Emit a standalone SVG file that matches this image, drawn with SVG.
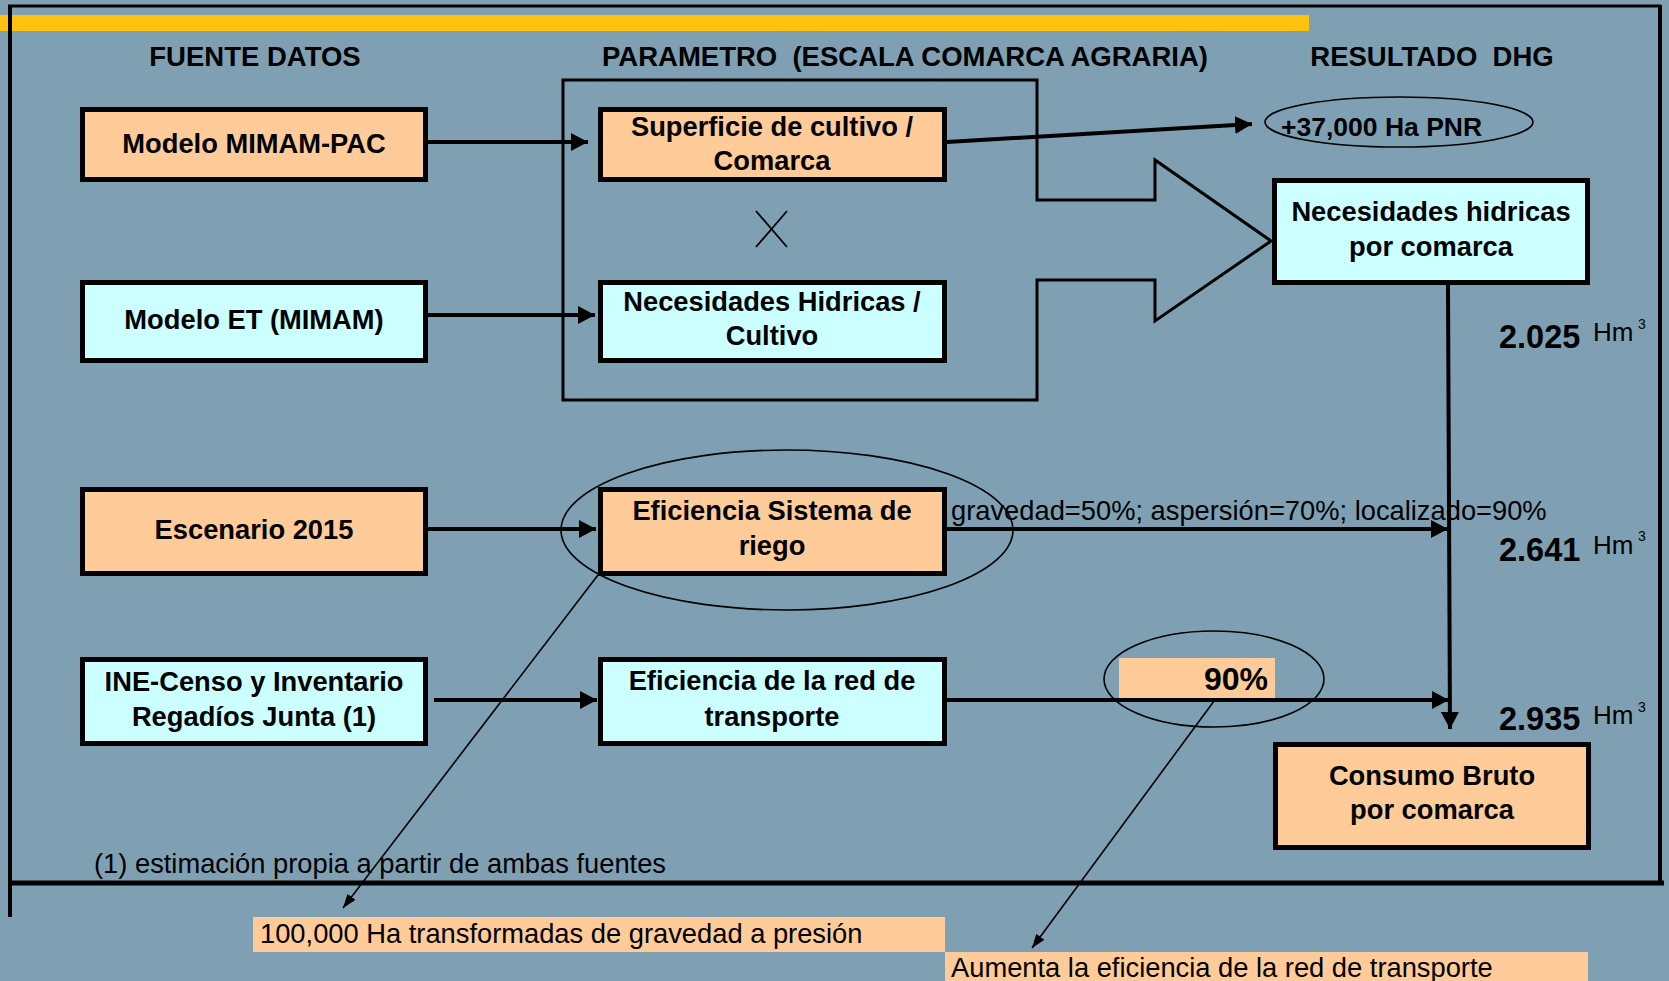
<svg xmlns="http://www.w3.org/2000/svg" width="1669" height="981" viewBox="0 0 1669 981">
<style>
text{font-family:"Liberation Sans",Arial,sans-serif;fill:#000}
.b{font-weight:bold;font-size:27.3px;text-anchor:middle}
.h{font-weight:bold;font-size:27.5px;text-anchor:middle}
.r{font-size:27.3px}
.pe{fill:#FFCC99;stroke:#000;stroke-width:5}
.cy{fill:#CCFFFF;stroke:#000;stroke-width:5}
.ln{stroke:#000;stroke-width:4;fill:none}
.th{stroke:#000;stroke-width:1.6;fill:none}
.num{font-weight:bold;font-size:32.5px}
.hm{font-size:26px}
.sup{font-size:14px}
</style>
<defs>
<marker id="ah" markerUnits="userSpaceOnUse" markerWidth="18" markerHeight="18" refX="17" refY="9" orient="auto"><path d="M0,0 L17,9 L0,18 Z" fill="#000"/></marker>
<marker id="at" markerUnits="userSpaceOnUse" markerWidth="15" markerHeight="10" refX="14" refY="5" orient="auto"><path d="M0,0 L14,5 L0,10 Z" fill="#000"/></marker>
</defs>
<rect x="0" y="0" width="1669" height="981" fill="#7FA0B2"/>
<rect x="0" y="15" width="1309" height="16" fill="#FFC20E"/>
<g id="frame" stroke="#000" fill="none">
<line x1="8" y1="6" x2="1661" y2="6" stroke-width="3"/>
<line x1="10" y1="5" x2="10" y2="917" stroke-width="4"/>
<line x1="1660" y1="5" x2="1660" y2="885" stroke-width="4"/>
<line x1="8" y1="883" x2="1664" y2="883" stroke-width="5"/>
</g>
<g id="headers">
<text class="h" x="255" y="66">FUENTE DATOS</text>
<text class="h" x="905" y="66" xml:space="preserve">PARAMETRO  (ESCALA COMARCA AGRARIA)</text>
<text class="h" x="1432" y="66" xml:space="preserve">RESULTADO  DHG</text>
</g>
<g id="param-frame">
<path d="M563,80 H1037 V200 H1155 V160 L1271,241 L1155,321 V280 H1037 V400 H563 Z" fill="none" stroke="#000" stroke-width="3"/>
<path d="M756,211 L787,247 M787,211 L756,247" stroke="#000" stroke-width="1.8"/>
</g>
<g id="connectors">
<line class="ln" x1="428" y1="142" x2="588" y2="142" marker-end="url(#ah)"/>
<line class="ln" x1="428" y1="315" x2="595" y2="315" marker-end="url(#ah)"/>
<line class="ln" x1="428" y1="529" x2="596" y2="529" marker-end="url(#ah)"/>
<line class="ln" x1="434" y1="700" x2="597" y2="700" marker-end="url(#ah)"/>
<line class="ln" x1="947" y1="142" x2="1252" y2="124" stroke-width="2.6" marker-end="url(#ah)"/>
<line class="ln" x1="1448" y1="285" x2="1450" y2="729" marker-end="url(#ah)"/>
<line class="ln" x1="947" y1="529" x2="1448" y2="529" marker-end="url(#ah)"/>
<line class="ln" x1="947" y1="700" x2="1449" y2="700" marker-end="url(#ah)"/>
<line class="th" x1="598" y1="575" x2="343" y2="908" marker-end="url(#at)"/>
<line class="th" x1="1217" y1="697" x2="1032" y2="948" marker-end="url(#at)"/>
</g>
<g id="n-mimam-pac">
<rect class="pe" x="82.5" y="109.5" width="343" height="70"/>
<text class="b" x="254" y="153">Modelo MIMAM-PAC</text>
</g>
<g id="n-modelo-et">
<rect class="cy" x="82.5" y="282.5" width="343" height="78"/>
<text class="b" x="254" y="329">Modelo ET (MIMAM)</text>
</g>
<g id="n-superficie">
<rect class="pe" x="600.5" y="109.5" width="344" height="70"/>
<text class="b" x="772" y="136">Superficie de cultivo /</text>
<text class="b" x="772" y="170">Comarca</text>
</g>
<g id="n-nec-cultivo">
<rect class="cy" x="600.5" y="282.5" width="344" height="78"/>
<text class="b" x="772" y="311">Necesidades Hidricas /</text>
<text class="b" x="772" y="345">Cultivo</text>
</g>
<g id="n-escenario">
<rect class="pe" x="82.5" y="489.5" width="343" height="84"/>
<text class="b" x="254" y="539">Escenario 2015</text>
</g>
<g id="n-ef-sistema">
<rect class="pe" x="600.5" y="489.5" width="344" height="84"/>
<text class="b" x="772" y="520">Eficiencia Sistema de</text>
<text class="b" x="772" y="555">riego</text>
</g>
<g id="n-ine">
<rect class="cy" x="82.5" y="659.5" width="343" height="84"/>
<text class="b" x="254" y="691">INE-Censo y Inventario</text>
<text class="b" x="254" y="726">Regadíos Junta (1)</text>
</g>
<g id="n-ef-red">
<rect class="cy" x="600.5" y="659.5" width="344" height="84"/>
<text class="b" x="772" y="690">Eficiencia de la red de</text>
<text class="b" x="772" y="726">transporte</text>
</g>
<g id="n-nec-comarca">
<rect class="cy" x="1274.5" y="180.5" width="313" height="102"/>
<text class="b" x="1431" y="221">Necesidades hidricas</text>
<text class="b" x="1431" y="256">por comarca</text>
</g>
<g id="n-consumo">
<rect class="pe" x="1275.5" y="744.5" width="313" height="103"/>
<text class="b" x="1432" y="785">Consumo Bruto</text>
<text class="b" x="1432" y="819">por comarca</text>
</g>
<g id="n-pnr">
<ellipse cx="1399" cy="122" rx="134" ry="25" fill="none" stroke="#000" stroke-width="1.6"/>
<text x="1281" y="136" font-weight="bold" font-size="26.5">+37,000 Ha PNR</text>
</g>
<g id="n-ellipse-sistema">
<ellipse cx="787" cy="530" rx="226" ry="80" fill="none" stroke="#000" stroke-width="1.6"/>
</g>
<g id="n-90">
<rect x="1119" y="658" width="156" height="40" fill="#FFCC99"/>
<ellipse cx="1214" cy="679" rx="110" ry="48" fill="none" stroke="#000" stroke-width="1.6"/>
<text x="1268" y="690" font-weight="bold" font-size="32" text-anchor="end">90%</text>
</g>
<g id="labels">
<text class="r" x="951" y="520">gravedad=50%; aspersión=70%; localizado=90%</text>
<text class="num" x="1499" y="348">2.025</text>
<text class="hm" x="1593" y="341">Hm</text>
<text class="sup" x="1638" y="329">3</text>
<text class="num" x="1499" y="561">2.641</text>
<text class="hm" x="1593" y="554">Hm</text>
<text class="sup" x="1638" y="541">3</text>
<text class="num" x="1499" y="730">2.935</text>
<text class="hm" x="1593" y="724">Hm</text>
<text class="sup" x="1638" y="712">3</text>
<text class="r" x="94" y="873">(1) estimación propia a partir de ambas fuentes</text>
</g>
<g id="n-note-gravedad">
<rect x="253" y="917" width="692" height="35" fill="#FFCC99"/>
<text class="r" x="260" y="943">100,000 Ha transformadas de gravedad a presión</text>
</g>
<g id="n-note-transporte">
<rect x="945" y="952" width="643" height="29" fill="#FFCC99"/>
<text class="r" x="951" y="977">Aumenta la eficiencia de la red de transporte</text>
</g>
</svg>
